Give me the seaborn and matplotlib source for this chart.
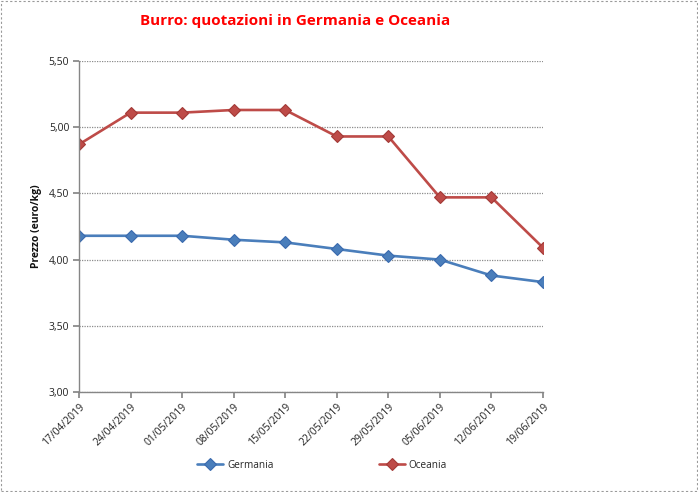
import matplotlib
matplotlib.use("Agg")
import matplotlib.pyplot as plt
import seaborn as sns
import pandas as pd
from matplotlib.patches import Rectangle
from matplotlib.ticker import FuncFormatter

dates = ["17/04/2019", "24/04/2019", "01/05/2019", "08/05/2019", "15/05/2019",
         "22/05/2019", "29/05/2019", "05/06/2019", "12/06/2019", "19/06/2019"]
germania = [4.18, 4.18, 4.18, 4.15, 4.13, 4.08, 4.03, 4.00, 3.88, 3.83]
oceania = [4.87, 5.11, 5.11, 5.13, 5.13, 4.93, 4.93, 4.47, 4.47, 4.09]
series_names = ["Germania", "Oceania"]
y_ticks = [3.00, 3.50, 4.00, 4.50, 5.00, 5.50]

df = pd.DataFrame({
    "pos": list(range(len(dates))) * 2,
    "value": germania + oceania,
    "serie": [series_names[0]] * len(dates) + [series_names[1]] * len(dates),
})

sns.set_theme(style="white")
plt.rcParams['font.family'] = ['Open Sans', 'DejaVu Sans']

fig = plt.figure(figsize=(6.98, 4.92), dpi=100)
ax = fig.add_axes([79/698, 1-392/492, (543-79)/698, (392-61)/492])

palette = {"Germania": "#4A7EBB", "Oceania": "#BE4B48"}
edge = {"Germania": "#3A6AAE", "Oceania": "#A33A37"}
for name in series_names:
    sub = df[df["serie"] == name]
    sns.lineplot(data=sub, x="pos", y="value", ax=ax, color=palette[name],
                 linewidth=1.9, marker="D", markersize=6.5,
                 markerfacecolor=palette[name], markeredgecolor=edge[name],
                 markeredgewidth=0.8, label=name, legend=False)

ax.set_xlim(0, len(dates) - 1)
ax.set_ylim(3.0, 5.5)
ax.set_yticks(y_ticks)
ax.yaxis.set_major_formatter(FuncFormatter(lambda v, p: f"{v:.2f}".replace(".", ",")))
ax.set_xticks(range(len(dates)))
ax.set_xticklabels(dates, rotation=45, ha="right", rotation_mode="anchor", fontsize=7.5)
ax.tick_params(axis="y", labelsize=7.5, length=4, color="#868686", direction="out", pad=3, left=True)
ax.tick_params(axis="x", length=4, color="#868686", direction="out", pad=3, bottom=True)
for lab in ax.get_xticklabels() + ax.get_yticklabels():
    lab.set_color("#222222")

ax.grid(axis="y", color="#8C8C8C", linestyle=(0, (1, 1)), linewidth=0.9)
ax.grid(axis="x", visible=False)
ax.set_axisbelow(True)
for s in ["top", "right"]:
    ax.spines[s].set_visible(False)
for s in ["left", "bottom"]:
    ax.spines[s].set_color("#868686")
    ax.spines[s].set_linewidth(1.0)

ax.set_xlabel("")
ax.set_ylabel("Prezzo (euro/kg)", fontsize=7.5, fontweight="bold", color="#111111", labelpad=5)

fig.text(295/698, 1-21/492, "Burro: quotazioni in Germania e Oceania", color="#FF0000",
         fontsize=11, fontweight="bold", ha="center", va="center")

handles, labels = ax.get_legend_handles_labels()
leg = fig.legend(handles, labels, loc="center", bbox_to_anchor=(322/698, 1-465/492),
                 ncol=2, frameon=False, fontsize=7.2, columnspacing=10.5,
                 handlelength=2.6, handletextpad=0.4)

fig.patches.append(Rectangle((0.002, 0.002), 0.996, 0.996, transform=fig.transFigure,
                             fill=False, edgecolor="#9A9A9A", linestyle=(0, (2, 2)), linewidth=0.8))

fig.savefig("out.png", dpi=100)
